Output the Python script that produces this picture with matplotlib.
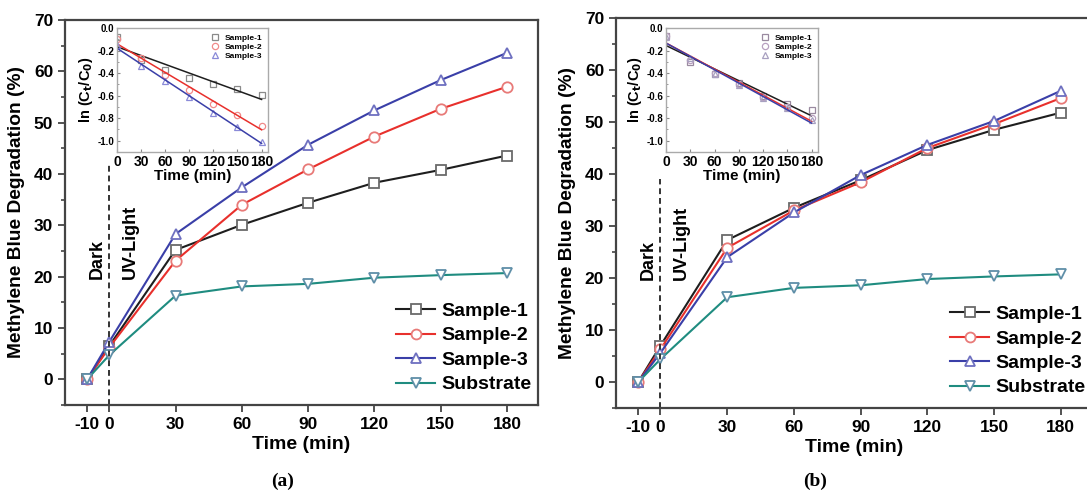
import numpy as np
import matplotlib
matplotlib.use("Agg")
import matplotlib.pyplot as plt
from matplotlib.ticker import MultipleLocator

plt.rcParams['font.family'] = ['Liberation Sans', 'DejaVu Sans']
plt.rcParams['font.weight'] = 'bold'
plt.rcParams['mathtext.default'] = 'bf'

# main panels
time = [-10, 0, 30, 60, 90, 120, 150, 180]
labels = ['Sample-1', 'Sample-2', 'Sample-3', 'Substrate']

deg_a_s1 = [0, 6.5, 25.2, 30.1, 34.4, 38.3, 40.8, 43.6]
deg_a_s2 = [0, 6.2, 23.1, 34.0, 40.9, 47.3, 52.7, 57.0]
deg_a_s3 = [0, 7.3, 28.3, 37.4, 45.7, 52.4, 58.3, 63.6]
deg_a_sub = [0, 4.7, 16.3, 18.1, 18.6, 19.8, 20.3, 20.7]

deg_b_s1 = [0, 7.0, 27.3, 33.5, 38.8, 44.6, 48.5, 51.8]
deg_b_s2 = [0, 6.3, 25.8, 33.0, 38.4, 45.0, 49.6, 54.6]
deg_b_s3 = [0, 5.6, 24.0, 32.6, 39.8, 45.6, 50.2, 56.0]
deg_b_sub = [0, 4.4, 16.3, 18.1, 18.6, 19.8, 20.3, 20.7]

# insets: ln(Ct/C0)
t_in = [0, 30, 60, 90, 120, 150, 180]
ln_a_s1 = [-0.08, -0.28, -0.37, -0.44, -0.50, -0.54, -0.59]
ln_a_s2 = [-0.10, -0.27, -0.42, -0.55, -0.67, -0.77, -0.87]
ln_a_s3 = [-0.15, -0.34, -0.47, -0.61, -0.75, -0.88, -1.01]
ln_b_s1 = [-0.07, -0.30, -0.41, -0.49, -0.60, -0.67, -0.73]
ln_b_s2 = [-0.07, -0.28, -0.40, -0.50, -0.61, -0.70, -0.80]
ln_b_s3 = [-0.08, -0.27, -0.41, -0.51, -0.62, -0.71, -0.82]

line_cols = ['#1e1e1e', '#e8302c', '#3a3fa8', '#1f8c80']
edge_cols = ['#6a6a6a', '#e87a78', '#6e70c0', '#5f8fa8']
markers = ['s', 'o', '^', 'v']
spine_col = '#444444'


def main_panel(ax, series, dark_top):
    for i, ys in enumerate(series):
        ax.plot(time, ys, color=line_cols[i], lw=1.5, marker=markers[i], ms=7.5,
                mfc='white', mec=edge_cols[i], mew=1.3, label=labels[i])
    ax.set_xlim(-20, 194)
    ax.set_ylim(-5, 70)
    ax.set_xticks(time)
    ax.set_xticklabels([str(t) for t in time])
    ax.yaxis.set_major_locator(MultipleLocator(10))
    ax.yaxis.set_minor_locator(MultipleLocator(5))
    ax.tick_params(axis='both', which='major', labelsize=12.5, length=5, width=1.3,
                   color=spine_col, direction='out')
    ax.tick_params(axis='y', which='minor', length=3, width=1.2, color=spine_col,
                   direction='out')
    for s in ax.spines.values():
        s.set_color(spine_col)
        s.set_linewidth(1.6)
    ax.set_xlabel('Time (min)', fontsize=14, fontweight='bold', labelpad=3)
    ax.set_ylabel('Methylene Blue Degradation (%)', fontsize=13.8, fontweight='bold',
                  labelpad=6)
    ax.plot([0, 0], [-5, dark_top], color='#333333', lw=1.4, ls=(0, (3, 2)))
    ax.text(-5.5, 19.6, 'Dark', rotation=90, ha='center', va='bottom', fontsize=13,
            fontweight='bold')
    ax.text(9.5, 19.6, 'UV-Light', rotation=90, ha='center', va='bottom', fontsize=13,
            fontweight='bold')
    ax.legend(loc='lower right', bbox_to_anchor=(1.01, 0.0), frameon=False,
              fontsize=14, handlelength=2.0, handletextpad=0.3, labelspacing=0.35,
              borderaxespad=0.2, markerscale=0.95)


def inset_panel(ax, series, mk_cols):
    for i, ys in enumerate(series):
        k, b = np.polyfit(t_in, ys, 1)
        ax.plot(t_in, ys, ls='none', marker=markers[i], ms=4.5, mfc='none',
                mec=mk_cols[i], mew=0.9, label=labels[i])
        ax.plot([0, 180], [b, b + k * 180], color=line_cols[i], lw=1.1)
    ax.set_xlim(0, 188)
    ax.set_ylim(-1.1, 0.0)
    ax.set_xticks(t_in)
    ax.yaxis.set_minor_locator(MultipleLocator(0.1))
    ax.set_yticks([0.0, -0.2, -0.4, -0.6, -0.8, -1.0])
    ax.set_yticklabels(['0.0', '-0.2', '-0.4', '-0.6', '-0.8', '-1.0'])
    ax.tick_params(axis='both', which='major', labelsize=7, length=2.5, width=0.8,
                   direction='in', pad=2, color='#888888')
    ax.tick_params(axis='y', which='minor', length=1.5, width=0.6, direction='in',
                   color='#888888')
    ax.xaxis.set_tick_params(labelsize=10)
    for s in ax.spines.values():
        s.set_color('#aaaaaa')
        s.set_linewidth(1.0)
    ax.set_xlabel('Time (min)', fontsize=11, fontweight='bold', labelpad=0)
    ax.set_ylabel(r'ln (C$_t$/C$_0$)', fontsize=10.5, fontweight='bold', labelpad=2)
    ax.legend(loc='upper right', frameon=False, fontsize=6, handlelength=1.0,
              handletextpad=0.7, labelspacing=0.15, borderaxespad=0.3)


fig = plt.figure(figsize=(10.87, 4.93), dpi=100)

ax_a = fig.add_axes([65 / 1087, 1 - 405 / 493, 473 / 1087, 385 / 493])
ax_b = fig.add_axes([616 / 1087, 1 - 408 / 493, 476 / 1087, 390 / 493])

main_panel(ax_a, [deg_a_s1, deg_a_s2, deg_a_s3, deg_a_sub], 42)
main_panel(ax_b, [deg_b_s1, deg_b_s2, deg_b_s3, deg_b_sub], 39)

in_a = fig.add_axes([117 / 1087, 1 - 152 / 493, 151 / 1087, 124 / 493])
in_b = fig.add_axes([666 / 1087, 1 - 152 / 493, 152 / 1087, 124 / 493])

inset_panel(in_a, [ln_a_s1, ln_a_s2, ln_a_s3], ['#8a8a8a', '#f08a8a', '#8a8ad8'])
inset_panel(in_b, [ln_b_s1, ln_b_s2, ln_b_s3], ['#9a8aa0', '#b8a0c0', '#a8a0c0'])

fig.text(283 / 1087, 1 - 481 / 493, '(a)', ha='center', va='center', fontsize=14,
         family='Liberation Serif', fontweight='bold')
fig.text(815 / 1087, 1 - 481 / 493, '(b)', ha='center', va='center', fontsize=14,
         family='Liberation Serif', fontweight='bold')

fig.savefig('out.png', dpi=100)
